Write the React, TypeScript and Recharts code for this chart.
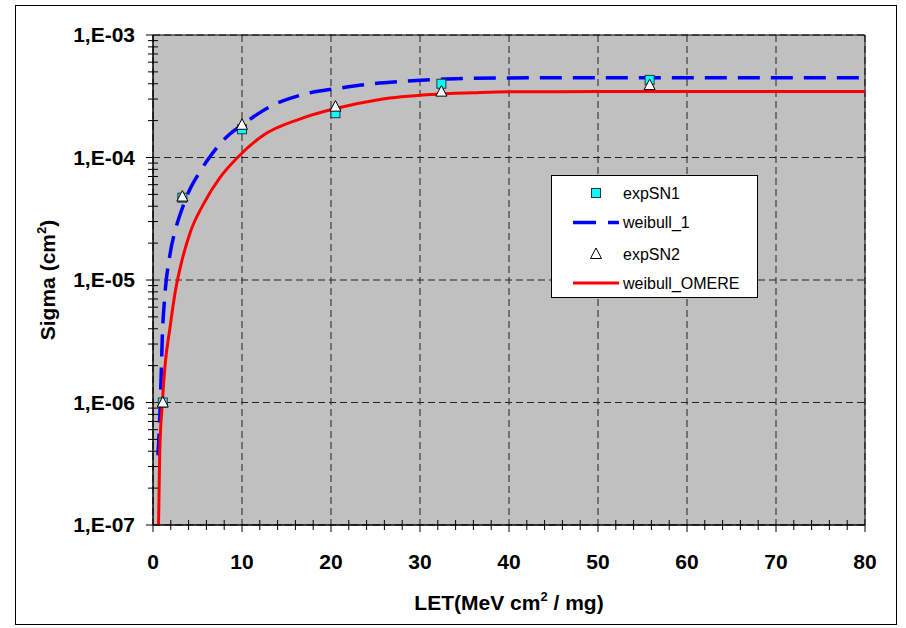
import React from 'react';
import {
  ComposedChart, Line, Scatter, XAxis, YAxis, CartesianGrid,
  ReferenceArea, Legend,
} from 'recharts';

const FONT = '"Liberation Sans", Arial, sans-serif';

// axis ticks
const xTicks = [0, 10, 20, 30, 40, 50, 60, 70, 80];
const xMinorTicks = [2, 4, 6, 8, 12, 14, 16, 18, 22, 24, 26, 28, 32, 34, 36, 38,
  42, 44, 46, 48, 52, 54, 56, 58, 62, 64, 66, 68, 72, 74, 76, 78];
const yTicks = [1e-7, 1e-6, 1e-5, 1e-4, 1e-3];
const yMinorTicks = [
  2e-7, 3e-7, 4e-7, 5e-7, 6e-7, 7e-7, 8e-7, 9e-7,
  2e-6, 3e-6, 4e-6, 5e-6, 6e-6, 7e-6, 8e-6, 9e-6,
  2e-5, 3e-5, 4e-5, 5e-5, 6e-5, 7e-5, 8e-5, 9e-5,
  2e-4, 3e-4, 4e-4, 5e-4, 6e-4, 7e-4, 8e-4, 9e-4,
];

// measured points
const expSN1 = [
  { x: 1.1, y: 1.0e-6 }, { x: 3.3, y: 4.7e-5 }, { x: 10.0, y: 1.7e-4 },
  { x: 20.5, y: 2.3e-4 }, { x: 32.4, y: 4.0e-4 }, { x: 55.8, y: 4.3e-4 },
];
const expSN2 = [
  { x: 1.1, y: 1.0e-6 }, { x: 3.3, y: 4.8e-5 }, { x: 10.0, y: 1.85e-4 },
  { x: 20.5, y: 2.6e-4 }, { x: 32.4, y: 3.45e-4 }, { x: 55.8, y: 3.9e-4 },
];

// fitted curves
const weibull1 = [
  { x: 0.56, y: 3.7e-7 }, { x: 0.74, y: 7e-7 }, { x: 0.9, y: 1.5e-6 },
  { x: 1.05, y: 3.5e-6 }, { x: 1.3, y: 7e-6 }, { x: 1.9, y: 1.6e-5 },
  { x: 2.6, y: 2.7e-5 }, { x: 3.26, y: 3.8e-5 }, { x: 4.2, y: 5.6e-5 },
  { x: 5.2, y: 7.5e-5 }, { x: 6.25, y: 9.8e-5 }, { x: 7.4, y: 1.26e-4 },
  { x: 8.6, y: 1.55e-4 }, { x: 10, y: 1.84e-4 }, { x: 11.7, y: 2.25e-4 },
  { x: 13.5, y: 2.68e-4 }, { x: 15.3, y: 3.02e-4 }, { x: 17.3, y: 3.33e-4 },
  { x: 20.7, y: 3.66e-4 }, { x: 24.4, y: 3.98e-4 }, { x: 28.5, y: 4.2e-4 },
  { x: 32, y: 4.35e-4 }, { x: 35.3, y: 4.42e-4 }, { x: 40, y: 4.46e-4 },
  { x: 50, y: 4.48e-4 }, { x: 60, y: 4.48e-4 }, { x: 70, y: 4.48e-4 },
  { x: 80, y: 4.48e-4 },
];
const weibullOmere = [
  { x: 0.62, y: 1e-7 }, { x: 0.75, y: 3.7e-7 }, { x: 1.05, y: 1e-6 },
  { x: 1.38, y: 2.1e-6 }, { x: 1.87, y: 3.9e-6 }, { x: 2.5, y: 8e-6 },
  { x: 3.26, y: 1.45e-5 }, { x: 4.2, y: 2.47e-5 }, { x: 5.7, y: 4.2e-5 },
  { x: 7.56, y: 6.9e-5 }, { x: 9.5, y: 1.0e-4 }, { x: 12.4, y: 1.52e-4 },
  { x: 16.4, y: 2.05e-4 }, { x: 20.5, y: 2.51e-4 }, { x: 25.5, y: 2.98e-4 },
  { x: 31.2, y: 3.27e-4 }, { x: 36, y: 3.38e-4 }, { x: 40, y: 3.44e-4 },
  { x: 50, y: 3.45e-4 }, { x: 60, y: 3.45e-4 }, { x: 70, y: 3.45e-4 },
  { x: 80, y: 3.45e-4 },
];

const legendItems = ['expSN1', 'weibull_1', 'expSN2', 'weibull_OMERE'];

const allXTicks = [...xTicks, ...xMinorTicks].sort((a, b) => a - b);
const allYTicks = [...yTicks, ...yMinorTicks].sort((a, b) => a - b);

const fmtY = (v: number) => {
  const e = Math.round(Math.log10(v));
  return `1,E-${String(Math.abs(e)).padStart(2, '0')}`;
};

const Square = ({ cx, cy }: any) => (
  <rect x={cx - 4.5} y={cy - 4.5} width={9} height={9} fill="#00FFFF" stroke="#333" strokeWidth={1} />
);
const Triangle = ({ cx, cy }: any) => (
  <polygon
    points={`${cx},${cy - 6} ${cx - 5.5},${cy + 4.5} ${cx + 5.5},${cy + 4.5}`}
    fill="#fff" stroke="#000" strokeWidth={1}
  />
);

// major ticks point outwards and carry a label, minor ticks cross the axis
const XTick = ({ x, y, payload }: any) => {
  const v = payload.value;
  if (!xTicks.includes(v)) {
    return <line x1={x} x2={x} y1={y - 5} y2={y + 5} stroke="#000" strokeWidth={1} />;
  }
  return (
    <g>
      <line x1={x} x2={x} y1={y} y2={y + 7} stroke="#000" strokeWidth={1} />
      <text x={x} y={y + 29} dy="0.71em" textAnchor="middle" fontFamily={FONT}
        fontWeight="bold" fontSize={21} fill="#000">{v}</text>
    </g>
  );
};

const YTick = ({ x, y, payload }: any) => {
  const v = payload.value;
  if (!yTicks.some(t => Math.abs(t - v) / t < 1e-6)) {
    return <line x1={x - 5} x2={x + 5} y1={y} y2={y} stroke="#000" strokeWidth={1} />;
  }
  return (
    <g>
      <line x1={x - 7} x2={x} y1={y} y2={y} stroke="#000" strokeWidth={1} />
      <text x={x - 18} y={y} dy="0.355em" textAnchor="end" fontFamily={FONT}
        fontWeight="bold" fontSize={21} fill="#000">{fmtY(v)}</text>
    </g>
  );
};

const XTitle = ({ viewBox }: any) => (
  <text
    x={viewBox.x + viewBox.width / 2} y={viewBox.y + 85}
    textAnchor="middle" fontFamily={FONT} fontWeight="bold" fontSize={21} fill="#000"
  >
    LET(MeV cm<tspan dy={-9} fontSize={13}>2</tspan><tspan dy={9}> / mg)</tspan>
  </text>
);

const YTitle = ({ viewBox }: any) => {
  const cx = 48;
  const cy = viewBox.y + viewBox.height / 2;
  return (
    <text
      x={cx} y={cy} transform={`rotate(-90, ${cx}, ${cy})`} dy="0.35em"
      textAnchor="middle" fontFamily={FONT} fontWeight="bold" fontSize={21} fill="#000"
    >
      Sigma (cm<tspan dy={-9} fontSize={13}>2</tspan><tspan dy={9}>)</tspan>
    </text>
  );
};

const LegendBox = () => {
  const rowY = [18, 47.5, 79, 108];
  return (
    <svg width={207} height={123} style={{ display: 'block' }}>
      <rect x={0.5} y={0.5} width={206} height={122} fill="#fff" stroke="#000" />
      {legendItems.map((name, i) => {
        const y = rowY[i];
        let mark: React.ReactNode = null;
        if (i === 0) mark = <Square cx={45} cy={y} />;
        if (i === 1)
          mark = <line x1={22} x2={68} y1={y} y2={y} stroke="#0000FF" strokeWidth={3.5} strokeDasharray="23 12" />;
        if (i === 2) mark = <Triangle cx={45} cy={y} />;
        if (i === 3) mark = <line x1={22} x2={68} y1={y} y2={y} stroke="#FF0000" strokeWidth={3} />;
        return (
          <g key={name}>
            {mark}
            <text x={72} y={y} dy="0.35em" fontFamily={FONT} fontSize={16} fill="#000">{name}</text>
          </g>
        );
      })}
    </svg>
  );
};

export default function App() {
  return (
    <div style={{ position: 'absolute', left: 0, top: 0, width: 906, height: 628, background: '#fff' }}>
      <div style={{
        position: 'absolute', left: 15, top: 5, width: 882, height: 620,
        border: '1px solid #000', boxSizing: 'border-box',
      }} />
      <ComposedChart
        width={906} height={628}
        margin={{ top: 35, right: 41, bottom: 13, left: 0 }}
        style={{ position: 'absolute', left: 0, top: 0 }}
      >
        <CartesianGrid
          fill="#C0C0C0" stroke="#222" strokeDasharray="7 4"
          horizontalValues={yTicks} verticalValues={xTicks}
        />
        <XAxis
          dataKey="x" type="number" domain={[0, 80]} ticks={allXTicks} allowDataOverflow
          height={90} interval={0} tickSize={0} tickMargin={0}
          axisLine={{ stroke: '#000' }} tickLine={false}
          tick={<XTick />}
          label={<XTitle />}
        />
        <YAxis
          dataKey="y" scale="log" domain={[1e-7, 1e-3]} ticks={allYTicks} allowDataOverflow
          width={153} interval={0} tickSize={0} tickMargin={0}
          axisLine={{ stroke: '#000' }} tickLine={false}
          tick={<YTick />}
          label={<YTitle />}
        />
        <Line
          data={weibull1} dataKey="y" type="monotone" stroke="#0000FF" strokeWidth={3.5}
          strokeDasharray="22 11" dot={false} activeDot={false} isAnimationActive={false}
          name="weibull_1"
        />
        <Line
          data={weibullOmere} dataKey="y" type="monotone" stroke="#FF0000" strokeWidth={3}
          dot={false} activeDot={false} isAnimationActive={false} name="weibull_OMERE"
        />
        <Scatter data={expSN1} dataKey="y" shape={<Square />} isAnimationActive={false} name="expSN1" />
        <Scatter data={expSN2} dataKey="y" shape={<Triangle />} isAnimationActive={false} name="expSN2" />
        <ReferenceArea x1={0} x2={80} y1={1e-7} y2={1e-3} fill="none" stroke="#000" strokeWidth={1} ifOverflow="visible" />
        <Legend
          layout="vertical" align="center" verticalAlign="middle"
          content={<LegendBox />}
          wrapperStyle={{ position: 'absolute', left: 551, top: 175, width: 207, height: 123 }}
        />
      </ComposedChart>
    </div>
  );
}
